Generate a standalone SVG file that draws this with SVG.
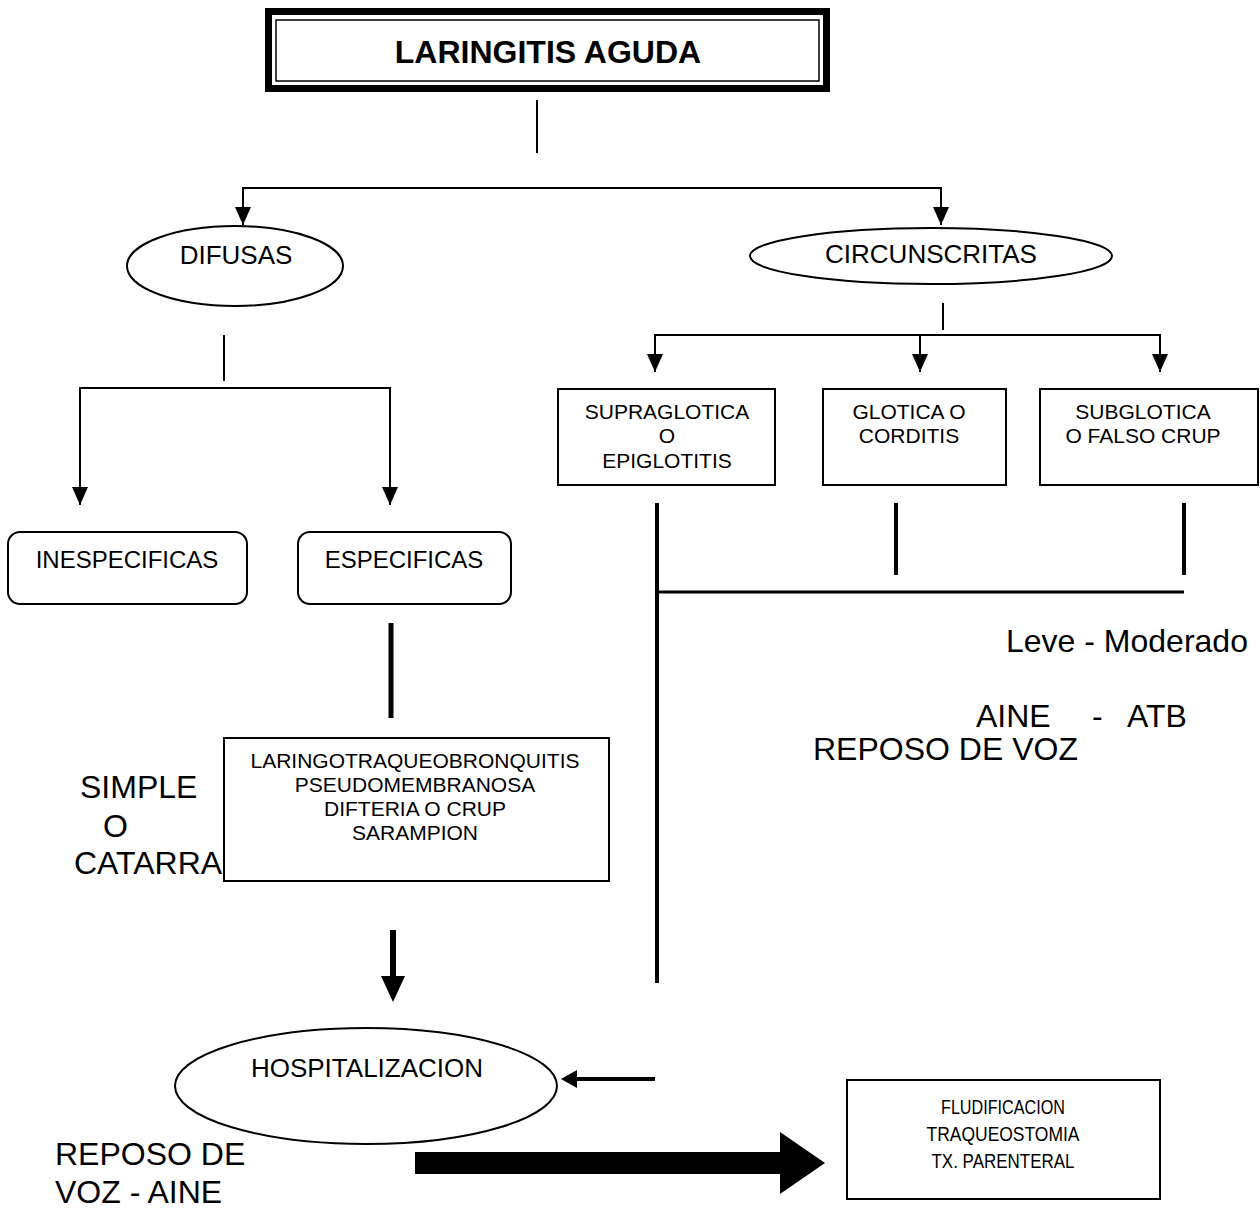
<svg xmlns="http://www.w3.org/2000/svg" width="1260" height="1219" viewBox="0 0 1260 1219">
<style>
text{font-family:"Liberation Sans",Arial,sans-serif;fill:#000}
.n{font-size:26px;text-anchor:middle}
.r{font-size:24px;text-anchor:middle}
.s{font-size:21px;text-anchor:middle}
.f{font-size:21px;text-anchor:middle}
.b{font-size:32px}
.box{fill:#fff;stroke:#000;stroke-width:2}
.c{fill:none;stroke:#000;stroke-width:2}
.k{fill:none;stroke:#000;stroke-width:4}
</style>
<defs>
<marker id="ah" markerUnits="userSpaceOnUse" markerWidth="18" markerHeight="16" refX="18" refY="8" orient="auto-start-reverse" viewBox="0 0 18 16">
<path d="M0,0 L18,8 L0,16 Z" fill="#000"/>
</marker>
</defs>
<g id="title">
<rect x="268.5" y="11.5" width="558" height="77" fill="#fff" stroke="#000" stroke-width="7"/>
<rect x="276" y="20" width="543" height="61" fill="none" stroke="#000" stroke-width="1.5"/>
<text x="548" y="63" style="font-size:32px;font-weight:bold;text-anchor:middle">LARINGITIS AGUDA</text>
</g>
<g id="difusas">
<ellipse cx="235" cy="266" rx="108" ry="40" class="box"/>
<text x="236" y="264" class="n">DIFUSAS</text>
</g>
<g id="circunscritas">
<ellipse cx="931" cy="256" rx="181" ry="28" class="box"/>
<text x="931" y="263" class="n">CIRCUNSCRITAS</text>
</g>
<g id="inespecificas">
<rect x="8" y="532" width="239" height="72" rx="12" class="box"/>
<text x="127" y="568" class="r">INESPECIFICAS</text>
</g>
<g id="especificas">
<rect x="298" y="532" width="213" height="72" rx="12" class="box"/>
<text x="404" y="568" class="r">ESPECIFICAS</text>
</g>
<g id="supraglotica">
<rect x="558" y="389" width="217" height="96" class="box"/>
<text class="s"><tspan x="667" y="419">SUPRAGLOTICA</tspan><tspan x="667" y="443">O</tspan><tspan x="667" y="468">EPIGLOTITIS</tspan></text>
</g>
<g id="glotica">
<rect x="823" y="389" width="183" height="96" class="box"/>
<text class="s"><tspan x="909" y="419">GLOTICA O</tspan><tspan x="909" y="443">CORDITIS</tspan></text>
</g>
<g id="subglotica">
<rect x="1040" y="389" width="218" height="96" class="box"/>
<text class="s"><tspan x="1143" y="419">SUBGLOTICA</tspan><tspan x="1143" y="443">O FALSO CRUP</tspan></text>
</g>
<g id="laringo">
<rect x="224" y="738" width="385" height="143" class="box"/>
<text class="s"><tspan x="415" y="768">LARINGOTRAQUEOBRONQUITIS</tspan><tspan x="415" y="792">PSEUDOMEMBRANOSA</tspan><tspan x="415" y="816">DIFTERIA O CRUP</tspan><tspan x="415" y="840">SARAMPION</tspan></text>
</g>
<g id="simple">
<text class="b"><tspan x="80" y="798">SIMPLE</tspan><tspan x="103" y="837">O</tspan><tspan x="74" y="874">CATARRA</tspan></text>
</g>
<g id="hospitalizacion">
<ellipse cx="366" cy="1086" rx="191" ry="58" class="box"/>
<text x="367" y="1077" class="n">HOSPITALIZACION</text>
</g>
<g id="fludificacion">
<rect x="847" y="1080" width="313" height="119" class="box"/>
<text x="1003" y="1114" class="f" textLength="124" lengthAdjust="spacingAndGlyphs">FLUDIFICACION</text>
<text x="1003" y="1141" class="f" textLength="153" lengthAdjust="spacingAndGlyphs">TRAQUEOSTOMIA</text>
<text x="1003" y="1168" class="f" textLength="143" lengthAdjust="spacingAndGlyphs">TX. PARENTERAL</text>
</g>
<g id="labels">
<text x="1006" y="652" class="b">Leve - Moderado</text>
<text class="b"><tspan x="976" y="727">AINE</tspan><tspan x="1092" y="727">-</tspan><tspan x="1127" y="727">ATB</tspan></text>
<text x="813" y="760" class="b">REPOSO DE VOZ</text>
<text class="b"><tspan x="55" y="1165">REPOSO DE</tspan><tspan x="55" y="1203">VOZ -  AINE</tspan></text>
</g>
<g id="connectors">
<line x1="537" y1="100" x2="537" y2="153" class="c"/>
<polyline points="243,225 243,188 941,188 941,225" class="c" marker-start="url(#ah)" marker-end="url(#ah)"/>
<line x1="224" y1="335" x2="224" y2="381" class="c"/>
<polyline points="80,505 80,388 390,388 390,505" class="c" marker-start="url(#ah)" marker-end="url(#ah)"/>
<line x1="943" y1="303" x2="943" y2="330" class="c"/>
<polyline points="655,372 655,335 1160,335 1160,372" class="c" marker-start="url(#ah)" marker-end="url(#ah)"/>
<line x1="920" y1="335" x2="920" y2="372" class="c" marker-end="url(#ah)"/>
<line x1="391" y1="623" x2="391" y2="718" class="k" style="stroke-width:5"/>
<line x1="657" y1="503" x2="657" y2="983" class="k"/>
<line x1="896" y1="503" x2="896" y2="575" class="k"/>
<line x1="1184" y1="503" x2="1184" y2="575" class="k"/>
<line x1="657" y1="592" x2="1184" y2="592" class="k" style="stroke-width:3"/>
<line x1="393" y1="930" x2="393" y2="978" class="k" style="stroke-width:6"/>
<path d="M381,976 L405,976 L393,1002 Z" fill="#000"/>
<line x1="655" y1="1079" x2="575" y2="1079" class="k"/>
<path d="M577,1070 L577,1088 L561,1079 Z" fill="#000"/>
<rect x="415" y="1152" width="367" height="22" fill="#000"/>
<path d="M780,1132 L825,1163 L780,1194 Z" fill="#000"/>
</g>
</svg>
